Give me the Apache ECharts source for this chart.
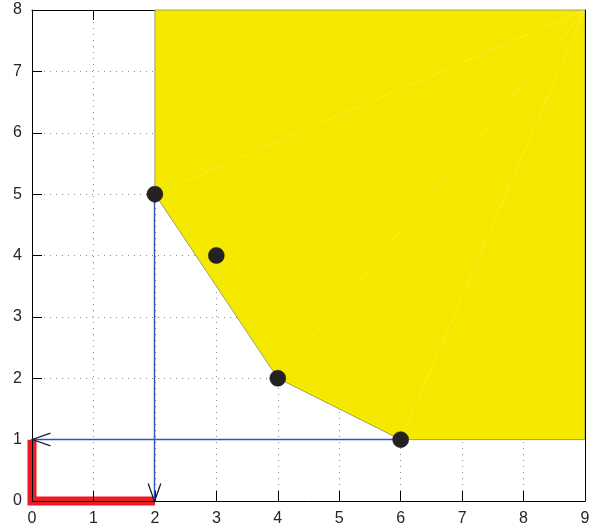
<!DOCTYPE html>
<html>
<head>
<meta charset="utf-8">
<script src="https://cdn.jsdelivr.net/npm/echarts@6/dist/echarts.min.js"></script>
<style>html,body{margin:0;padding:0;background:#fff;}#c{width:596px;height:529px;}</style>
</head>
<body>
<div id="c"></div>
<script>
// ---- data ----
const xTickLabels = ['0','1','2','3','4','5','6','7','8','9'];
const yTickLabels = ['0','1','2','3','4','5','6','7','8'];
const regionX = [2, 9, 9, 6, 4, 2];
const regionY = [8, 8, 1, 1, 2, 5];
const pointsX = [2, 3, 4, 6];
const pointsY = [5, 4, 2, 1];
const fanFromX = [2, 4, 6];
const fanFromY = [5, 2, 1];
const fanToX = 9;
const fanToY = 8;
const arrowStartX = [6, 2];
const arrowStartY = [1, 5];
const arrowEndX = [0, 2];
const arrowEndY = [1, 0];
const pathX = [0, 0, 2];
const pathY = [1, 0, 0];

const FONT = "'Liberation Sans', Arial, sans-serif";
const labelColor = '#262626';

const chart = echarts.init(document.getElementById('c'), null, {renderer: 'canvas'});

const option = {
  animation: false,
  grid: {left: 32, right: 11, top: 10, bottom: 28, containLabel: false},
  xAxis: [
    {
      type: 'value', position: 'bottom', min: 0, max: 9, interval: 1, z: 0,
      axisLine: {show: true, onZero: false, lineStyle: {color: '#000', width: 1}},
      axisTick: {show: true, inside: true, length: 10, lineStyle: {color: '#000'}},
      axisLabel: {show: true, margin: 10, color: labelColor, fontSize: 16, fontFamily: FONT,
        formatter: v => xTickLabels[v]},
      splitLine: {show: true, lineStyle: {color: '#8a8a8a', width: 1, type: [1, 5]}}
    },
    {
      type: 'value', position: 'top', min: 0, max: 9, interval: 1, z: 0,
      axisLine: {show: true, onZero: false, lineStyle: {color: '#000', width: 1}},
      axisTick: {show: true, inside: true, length: 10, lineStyle: {color: '#000'}},
      axisLabel: {show: false}, splitLine: {show: false}
    }
  ],
  yAxis: [
    {
      type: 'value', position: 'left', min: 0, max: 8, interval: 1, z: 0,
      axisLine: {show: true, onZero: false, lineStyle: {color: '#000', width: 1}},
      axisTick: {show: true, inside: true, length: 10, lineStyle: {color: '#000'}},
      axisLabel: {show: true, margin: 10, color: labelColor, fontSize: 16, fontFamily: FONT,
        formatter: v => yTickLabels[v]},
      splitLine: {show: true, lineStyle: {color: '#8a8a8a', width: 1, type: [1, 5]}}
    },
    {
      type: 'value', position: 'right', min: 0, max: 8, interval: 1, z: 5,
      axisLine: {show: true, onZero: false, lineStyle: {color: '#000', width: 1}},
      axisTick: {show: false}, axisLabel: {show: false}, splitLine: {show: false}
    }
  ],
  series: [
    {
      type: 'custom', name: 'region', z: 2, xAxisIndex: 0, yAxisIndex: 0,
      data: regionX.map((x, i) => [x, regionY[i]]),
      encode: {x: 0, y: 1},
      renderItem: function (params, api) {
        if (params.dataIndex !== 0) return null;
        const pts = regionX.map((x, i) => api.coord([x, regionY[i]]));
        return {
          type: 'polygon',
          shape: {points: pts},
          style: {fill: '#f5e900', stroke: '#8f8c5a', lineWidth: 0.8}
        };
      }
    },
    {
      type: 'custom', name: 'fan', z: 2,
      data: fanFromX.map((x, i) => [x, fanFromY[i]]),
      encode: {x: 0, y: 1},
      renderItem: function (params, api) {
        const a = api.coord([api.value(0), api.value(1)]);
        const b = api.coord([fanToX, fanToY]);
        return {
          type: 'line',
          shape: {x1: a[0], y1: a[1], x2: b[0], y2: b[1]},
          style: {stroke: 'rgba(255,255,235,0.35)', lineWidth: 1, lineDash: [2, 2]}
        };
      }
    },
    {
      type: 'line', name: 'path', z: -1, clip: false,
      data: pathX.map((x, i) => [x, pathY[i]]),
      symbol: 'none',
      lineStyle: {color: '#ec1c24', width: 9, cap: 'butt', join: 'miter', opacity: 1}
    },
    {
      type: 'custom', name: 'arrows', z: 3,
      data: arrowStartX.map((x, i) => [x, arrowStartY[i], arrowEndX[i], arrowEndY[i]]),
      encode: {x: [0, 2], y: [1, 3]},
      renderItem: function (params, api) {
        const snap = p => [Math.round(p[0] - 0.5) + 0.5, Math.round(p[1] - 0.5) + 0.5];
        const a = snap(api.coord([api.value(0), api.value(1)]));
        const b = snap(api.coord([api.value(2), api.value(3)]));
        const dx = b[0] - a[0], dy = b[1] - a[1];
        const L = Math.sqrt(dx * dx + dy * dy) || 1;
        const ux = dx / L, uy = dy / L;
        const px = -uy, py = ux;
        const back = 18, half = 6.3;
        const p1 = [b[0] - ux * back + px * half, b[1] - uy * back + py * half];
        const p2 = [b[0] - ux * back - px * half, b[1] - uy * back - py * half];
        return {
          type: 'group',
          children: [
            {type: 'line', shape: {x1: a[0], y1: a[1], x2: b[0], y2: b[1]},
              style: {stroke: '#3355bb', lineWidth: 1.4}},
            {type: 'polyline', shape: {points: [p1, b, p2]},
              style: {stroke: '#1c1c30', lineWidth: 1.3, fill: null}}
          ]
        };
      }
    },
    {
      type: 'scatter', name: 'points', z: 4,
      data: pointsX.map((x, i) => [x, pointsY[i]]),
      symbol: 'circle', symbolSize: 16,
      itemStyle: {color: '#232323', borderColor: '#111', borderWidth: 0.5, opacity: 1}
    }
  ]
};
chart.setOption(option);
</script>
</body>
</html>
